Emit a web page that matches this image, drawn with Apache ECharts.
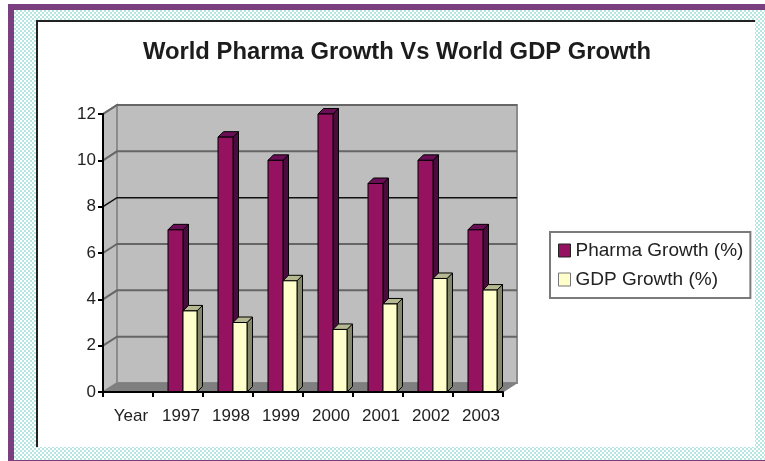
<!DOCTYPE html>
<html><head><meta charset="utf-8">
<script src="https://cdn.jsdelivr.net/npm/echarts@6/dist/echarts.min.js"></script>
<style>
html,body{margin:0;padding:0;width:765px;height:461px;overflow:hidden;background:#fff}
#bg{position:absolute;left:14px;top:10px;width:751px;height:450px;background:repeating-conic-gradient(#b5e6e2 0 25%,#fff 0 50%) 0 0/4px 4px}
#c{position:absolute;left:0;top:0;width:765px;height:461px}
</style></head><body><div id="bg"></div><div id="c"></div>
<script>
const categories = ['Year','1997','1998','1999','2000','2001','2002','2003'];
const pharmaGrowth = [null,7,11,10,12,9,10,7];
const gdpGrowth = [null,3.5,3,4.8,2.7,3.8,4.9,4.4];
const gridValues = [2,4,6,8,10,12];
const legendNames = ['Pharma Growth (%)','GDP Growth (%)'];
const titleText = 'World Pharma Growth Vs World GDP Growth';

const DX = 14, DY = -9;
const chart = echarts.init(document.getElementById('c'), null, {renderer:'canvas'});

function poly(points, fill, stroke, lw){
  return {type:'polygon', shape:{points}, style:{fill, stroke: stroke||null, lineWidth: lw||0}};
}
function walls(params, api){
  const y0 = api.coord([0,0])[1], yT = api.coord([0,12])[1];
  const x0 = params.coordSys.x, x1 = x0 + params.coordSys.width;
  return {type:'group', children:[
    poly([[x0+DX,y0+DY],[x1+DX,y0+DY],[x1+DX,yT+DY],[x0+DX,yT+DY]],'#bebebe','#8c8c8c',2),
    poly([[x0,y0],[x0+DX,y0+DY],[x0+DX,yT+DY],[x0,yT]],'#bebebe','#8c8c8c',2),
    poly([[x0,y0],[x1,y0],[x1+DX,y0+DY],[x0+DX,y0+DY]],'#7f7f7f','#7f7f7f',1)
  ]};
}
function gridLine(params, api){
  const v = api.value(0);
  const y = api.coord([0,v])[1];
  const x0 = params.coordSys.x, x1 = x0 + params.coordSys.width;
  const col = v === 8 ? '#111' : '#666';
  return {type:'polyline', shape:{points:[[x0,y],[x0+DX,y+DY],[x1+DX,y+DY]]},
    style:{fill:null, stroke:col, lineWidth:v === 8 ? 1.5 : 2}};
}
function bar(front, side, top, offA, offB){
  return function(params, api){
    const i = api.value(0), v = api.value(1);
    if (v == null || isNaN(v)) return;
    const p = api.coord([i,v]), b = api.coord([i,0]);
    const l = p[0]+offA, r = p[0]+offB, t = p[1], y0 = b[1], d = 5.5;
    const ln = '#000';
    return {type:'group', children:[
      poly([[r,t],[r+d,t-d],[r+d,y0-d],[r,y0]], side, ln, 1),
      poly([[l,t],[l+d,t-d],[r+d,t-d],[r,t]], top, ln, 1),
      poly([[l,t],[r,t],[r,y0],[l,y0]], front, ln, 1)
    ]};
  };
}
chart.setOption({
  animation:false,
  backgroundColor:'transparent',
  title:{text:titleText, left:392, top:35, textAlign:'center',
    textStyle:{fontFamily:'Liberation Sans', fontWeight:'bold', fontSize:23.8, color:'#1c1c1c'}},
  grid:{left:103, top:114, width:400, height:278, containLabel:false},
  legend:{orient:'vertical', left:550, top:232, data:legendNames, icon:'rect', itemWidth:12, itemHeight:13,
    itemGap:10, padding:[9,7,9,8], itemStyle:{borderWidth:1}, backgroundColor:'#fff', borderColor:'#7a7a7a', borderWidth:2,
    textStyle:{fontFamily:'Liberation Sans', fontSize:19, color:'#222'}, selectedMode:false},
  xAxis:{type:'category', data:categories, boundaryGap:true, z:6,
    axisLine:{lineStyle:{color:'#000',width:2}}, axisTick:{show:true,length:5,alignWithLabel:false,lineStyle:{color:'#000',width:2}},
    axisLabel:{interval:0, margin:16, padding:[0,0,0,6], fontFamily:'Liberation Sans', fontSize:17, color:'#222'}, splitLine:{show:false}},
  yAxis:{type:'value', min:0, max:12, interval:2, z:6,
    axisLine:{show:true,lineStyle:{color:'#000',width:2}}, axisTick:{show:true,length:5,lineStyle:{color:'#000',width:2}},
    axisLabel:{margin:7, fontFamily:'Liberation Sans', fontSize:17, color:'#222'}, splitLine:{show:false}},
  graphic:[
    {type:'rect', z:-10, shape:{x:8,y:4,width:757,height:6}, style:{fill:'#7a3f7e'}},
    {type:'rect', z:-10, shape:{x:8,y:4,width:6,height:457}, style:{fill:'#7a3f7e'}},
    {type:'rect', z:-10, shape:{x:8,y:460,width:757,height:1}, style:{fill:'#7a3f7e'}},
    {type:'rect', z:-10, shape:{x:38,y:22,width:717,height:425}, style:{fill:'#fff'}},
    {type:'rect', z:-9, shape:{x:36,y:20,width:719,height:2}, style:{fill:'#222'}},
    {type:'rect', z:-9, shape:{x:36,y:20,width:2,height:427}, style:{fill:'#222'}}
  ],
  series:[
    {name:'walls', type:'custom', z:1, silent:true, clip:false, data:[[0]], encode:{x:0,y:0}, renderItem:walls},
    {name:'gridlines', type:'custom', z:2, silent:true, clip:false, data:gridValues.map(v=>[v]), encode:{y:0}, renderItem:gridLine},
    {name:legendNames[0], type:'custom', z:3, clip:false,
      itemStyle:{color:'#941260',borderColor:'#222',borderWidth:1},
      data:pharmaGrowth.map((v,i)=>[i,v]), encode:{x:0,y:1},
      renderItem:bar('#941260','#4a0b3f','#6a0f55',-10,5)},
    {name:legendNames[1], type:'custom', z:4, clip:false,
      itemStyle:{color:'#ffffcc',borderColor:'#777',borderWidth:1},
      data:gdpGrowth.map((v,i)=>[i,v]), encode:{x:0,y:1},
      renderItem:bar('#ffffcc','#85886a','#b5b890',5,19)}
  ]
});
</script></body></html>
